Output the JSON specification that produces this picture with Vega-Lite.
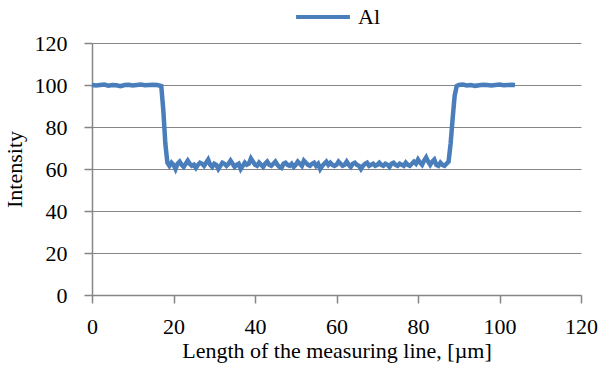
{
  "$schema": "https://vega.github.io/schema/vega-lite/v6.json",
  "width": 489,
  "height": 252,
  "autosize": {"type": "none"},
  "padding": {"left": 92, "top": 43, "right": 26, "bottom": 83},
  "background": "white",
  "config": {
    "view": {"stroke": null},
    "font": "Liberation Serif",
    "axis": {
      "labelFont": "Liberation Serif",
      "titleFont": "Liberation Serif",
      "labelFontSize": 22,
      "titleFontSize": 22,
      "labelColor": "#000000",
      "titleColor": "#000000",
      "titleFontWeight": "normal",
      "domainColor": "#868686",
      "tickColor": "#868686",
      "gridColor": "#868686",
      "domainWidth": 1.5,
      "tickWidth": 1.5,
      "gridWidth": 1.2
    }
  },
  "data": {
    "values": [
      {"x": 0, "y": 100, "s": "Al"}, {"x": 1, "y": 99.8, "s": "Al"}, {"x": 2, "y": 100, "s": "Al"}, {"x": 3, "y": 100.2, "s": "Al"},
      {"x": 4, "y": 99.7, "s": "Al"}, {"x": 5, "y": 100, "s": "Al"}, {"x": 6, "y": 99.9, "s": "Al"}, {"x": 7, "y": 99.4, "s": "Al"},
      {"x": 8, "y": 100, "s": "Al"}, {"x": 9, "y": 100.1, "s": "Al"}, {"x": 10, "y": 99.8, "s": "Al"}, {"x": 11, "y": 100, "s": "Al"},
      {"x": 12, "y": 100.2, "s": "Al"}, {"x": 13, "y": 99.9, "s": "Al"}, {"x": 14, "y": 100, "s": "Al"}, {"x": 15, "y": 100.1, "s": "Al"},
      {"x": 16, "y": 100, "s": "Al"}, {"x": 17, "y": 99.5, "s": "Al"}, {"x": 17.5, "y": 88, "s": "Al"}, {"x": 18, "y": 72, "s": "Al"},
      {"x": 18.5, "y": 63, "s": "Al"}, {"x": 19, "y": 61.5, "s": "Al"}, {"x": 19.5, "y": 63, "s": "Al"}, {"x": 20, "y": 62, "s": "Al"},
      {"x": 20.5, "y": 60, "s": "Al"}, {"x": 21, "y": 62.5, "s": "Al"}, {"x": 21.5, "y": 63.5, "s": "Al"}, {"x": 22, "y": 62, "s": "Al"},
      {"x": 22.5, "y": 61, "s": "Al"}, {"x": 23, "y": 62.5, "s": "Al"}, {"x": 23.5, "y": 64, "s": "Al"}, {"x": 24, "y": 62.5, "s": "Al"},
      {"x": 24.5, "y": 61.5, "s": "Al"}, {"x": 25, "y": 62, "s": "Al"}, {"x": 25.5, "y": 60.5, "s": "Al"}, {"x": 26, "y": 62, "s": "Al"},
      {"x": 26.5, "y": 63, "s": "Al"}, {"x": 27, "y": 62.5, "s": "Al"}, {"x": 27.5, "y": 61.5, "s": "Al"}, {"x": 28, "y": 63, "s": "Al"},
      {"x": 28.5, "y": 64.5, "s": "Al"}, {"x": 29, "y": 62, "s": "Al"}, {"x": 29.5, "y": 61, "s": "Al"}, {"x": 30, "y": 62.5, "s": "Al"},
      {"x": 30.5, "y": 62, "s": "Al"}, {"x": 31, "y": 60, "s": "Al"}, {"x": 31.5, "y": 61.5, "s": "Al"}, {"x": 32, "y": 63, "s": "Al"},
      {"x": 32.5, "y": 62.5, "s": "Al"}, {"x": 33, "y": 61.5, "s": "Al"}, {"x": 33.5, "y": 62.5, "s": "Al"}, {"x": 34, "y": 64, "s": "Al"},
      {"x": 34.5, "y": 62.5, "s": "Al"}, {"x": 35, "y": 61, "s": "Al"}, {"x": 35.5, "y": 62, "s": "Al"}, {"x": 36, "y": 62.5, "s": "Al"},
      {"x": 36.5, "y": 60, "s": "Al"}, {"x": 37, "y": 61.5, "s": "Al"}, {"x": 37.5, "y": 63, "s": "Al"}, {"x": 38, "y": 62, "s": "Al"},
      {"x": 38.5, "y": 62.5, "s": "Al"}, {"x": 39, "y": 65, "s": "Al"}, {"x": 39.5, "y": 63.5, "s": "Al"}, {"x": 40, "y": 62, "s": "Al"},
      {"x": 40.5, "y": 61.5, "s": "Al"}, {"x": 41, "y": 63, "s": "Al"}, {"x": 41.5, "y": 62, "s": "Al"}, {"x": 42, "y": 61, "s": "Al"},
      {"x": 42.5, "y": 62.5, "s": "Al"}, {"x": 43, "y": 63.5, "s": "Al"}, {"x": 43.5, "y": 62, "s": "Al"}, {"x": 44, "y": 61.5, "s": "Al"},
      {"x": 44.5, "y": 62.5, "s": "Al"}, {"x": 45, "y": 63.5, "s": "Al"}, {"x": 45.5, "y": 62, "s": "Al"}, {"x": 46, "y": 61, "s": "Al"},
      {"x": 46.5, "y": 60.5, "s": "Al"}, {"x": 47, "y": 62.5, "s": "Al"}, {"x": 47.5, "y": 63, "s": "Al"}, {"x": 48, "y": 62, "s": "Al"},
      {"x": 48.5, "y": 61.5, "s": "Al"}, {"x": 49, "y": 62.5, "s": "Al"}, {"x": 49.5, "y": 61, "s": "Al"}, {"x": 50, "y": 62, "s": "Al"},
      {"x": 50.5, "y": 63.5, "s": "Al"}, {"x": 51, "y": 62.5, "s": "Al"}, {"x": 51.5, "y": 61.5, "s": "Al"}, {"x": 52, "y": 64, "s": "Al"},
      {"x": 52.5, "y": 63, "s": "Al"}, {"x": 53, "y": 62, "s": "Al"}, {"x": 53.5, "y": 61.5, "s": "Al"}, {"x": 54, "y": 62.5, "s": "Al"},
      {"x": 54.5, "y": 63, "s": "Al"}, {"x": 55, "y": 61.5, "s": "Al"}, {"x": 55.5, "y": 62.5, "s": "Al"}, {"x": 56, "y": 60, "s": "Al"},
      {"x": 56.5, "y": 61.5, "s": "Al"}, {"x": 57, "y": 62.5, "s": "Al"}, {"x": 57.5, "y": 63.5, "s": "Al"}, {"x": 58, "y": 62, "s": "Al"},
      {"x": 58.5, "y": 63, "s": "Al"}, {"x": 59, "y": 62, "s": "Al"}, {"x": 59.5, "y": 61.5, "s": "Al"}, {"x": 60, "y": 62, "s": "Al"},
      {"x": 60.5, "y": 63.5, "s": "Al"}, {"x": 61, "y": 62.5, "s": "Al"}, {"x": 61.5, "y": 61.5, "s": "Al"}, {"x": 62, "y": 62, "s": "Al"},
      {"x": 62.5, "y": 63.5, "s": "Al"}, {"x": 63, "y": 62, "s": "Al"}, {"x": 63.5, "y": 61, "s": "Al"}, {"x": 64, "y": 62.5, "s": "Al"},
      {"x": 64.5, "y": 63, "s": "Al"}, {"x": 65, "y": 62, "s": "Al"}, {"x": 65.5, "y": 61.5, "s": "Al"}, {"x": 66, "y": 60, "s": "Al"},
      {"x": 66.5, "y": 61.5, "s": "Al"}, {"x": 67, "y": 62.5, "s": "Al"}, {"x": 67.5, "y": 63, "s": "Al"}, {"x": 68, "y": 61.5, "s": "Al"},
      {"x": 68.5, "y": 62, "s": "Al"}, {"x": 69, "y": 62.5, "s": "Al"}, {"x": 69.5, "y": 61.5, "s": "Al"}, {"x": 70, "y": 62, "s": "Al"},
      {"x": 70.5, "y": 63, "s": "Al"}, {"x": 71, "y": 62, "s": "Al"}, {"x": 71.5, "y": 61.5, "s": "Al"}, {"x": 72, "y": 62.5, "s": "Al"},
      {"x": 72.5, "y": 62, "s": "Al"}, {"x": 73, "y": 61, "s": "Al"}, {"x": 73.5, "y": 62.5, "s": "Al"}, {"x": 74, "y": 63, "s": "Al"},
      {"x": 74.5, "y": 62, "s": "Al"}, {"x": 75, "y": 61.5, "s": "Al"}, {"x": 75.5, "y": 62.5, "s": "Al"}, {"x": 76, "y": 62, "s": "Al"},
      {"x": 76.5, "y": 61.5, "s": "Al"}, {"x": 77, "y": 63, "s": "Al"}, {"x": 77.5, "y": 62, "s": "Al"}, {"x": 78, "y": 61.5, "s": "Al"},
      {"x": 78.5, "y": 62.5, "s": "Al"}, {"x": 79, "y": 63.5, "s": "Al"}, {"x": 79.5, "y": 62.5, "s": "Al"}, {"x": 80, "y": 64.5, "s": "Al"},
      {"x": 80.5, "y": 63, "s": "Al"}, {"x": 81, "y": 62, "s": "Al"}, {"x": 81.5, "y": 64, "s": "Al"}, {"x": 82, "y": 65.5, "s": "Al"},
      {"x": 82.5, "y": 63.5, "s": "Al"}, {"x": 83, "y": 62, "s": "Al"}, {"x": 83.5, "y": 63.5, "s": "Al"}, {"x": 84, "y": 64.5, "s": "Al"},
      {"x": 84.5, "y": 62, "s": "Al"}, {"x": 85, "y": 61.5, "s": "Al"}, {"x": 85.5, "y": 63, "s": "Al"}, {"x": 86, "y": 62, "s": "Al"},
      {"x": 86.5, "y": 61.5, "s": "Al"}, {"x": 87, "y": 62.5, "s": "Al"}, {"x": 87.5, "y": 63.5, "s": "Al"}, {"x": 88, "y": 72, "s": "Al"},
      {"x": 88.5, "y": 84, "s": "Al"}, {"x": 89, "y": 95, "s": "Al"}, {"x": 89.5, "y": 99.5, "s": "Al"}, {"x": 90, "y": 100, "s": "Al"},
      {"x": 91, "y": 100.2, "s": "Al"}, {"x": 92, "y": 99.8, "s": "Al"}, {"x": 93, "y": 100, "s": "Al"}, {"x": 94, "y": 99.6, "s": "Al"},
      {"x": 95, "y": 99.9, "s": "Al"}, {"x": 96, "y": 100.1, "s": "Al"}, {"x": 97, "y": 100, "s": "Al"}, {"x": 98, "y": 99.8, "s": "Al"},
      {"x": 99, "y": 100, "s": "Al"}, {"x": 100, "y": 100.2, "s": "Al"}, {"x": 101, "y": 99.9, "s": "Al"}, {"x": 102, "y": 100, "s": "Al"},
      {"x": 103, "y": 100.1, "s": "Al"}, {"x": 103.8, "y": 100, "s": "Al"}
    ]
  },
  "mark": {"type": "line", "strokeWidth": 4.5, "interpolate": "linear"},
  "encoding": {
    "x": {
      "field": "x", "type": "quantitative",
      "scale": {"domain": [0, 120], "nice": false, "zero": true},
      "axis": {"values": [0, 20, 40, 60, 80, 100, 120], "grid": false, "title": "Length of the measuring line, [µm]",
               "labelFont": "Liberation Serif", "titleFont": "Liberation Serif",
               "tickSize": 8, "labelPadding": 13, "titlePadding": 3, "labelFlush": false}
    },
    "y": {
      "field": "y", "type": "quantitative",
      "scale": {"domain": [0, 120], "nice": false},
      "axis": {"values": [0, 20, 40, 60, 80, 100, 120], "grid": true, "title": "Intensity",
               "labelFont": "Liberation Serif", "titleFont": "Liberation Serif",
               "tickSize": 8, "labelPadding": 17, "titlePadding": 8}
    },
    "color": {
      "field": "s", "type": "nominal",
      "scale": {"range": ["#4a7ebb"]},
      "legend": {"title": null, "orient": "none", "legendX": 202, "legendY": -55,
                 "symbolType": "stroke", "symbolSize": 2900, "symbolStrokeWidth": 4,
                 "labelFont": "Liberation Serif", "labelFontSize": 22, "labelColor": "#000000", "labelOffset": 6}
    }
  }
}
